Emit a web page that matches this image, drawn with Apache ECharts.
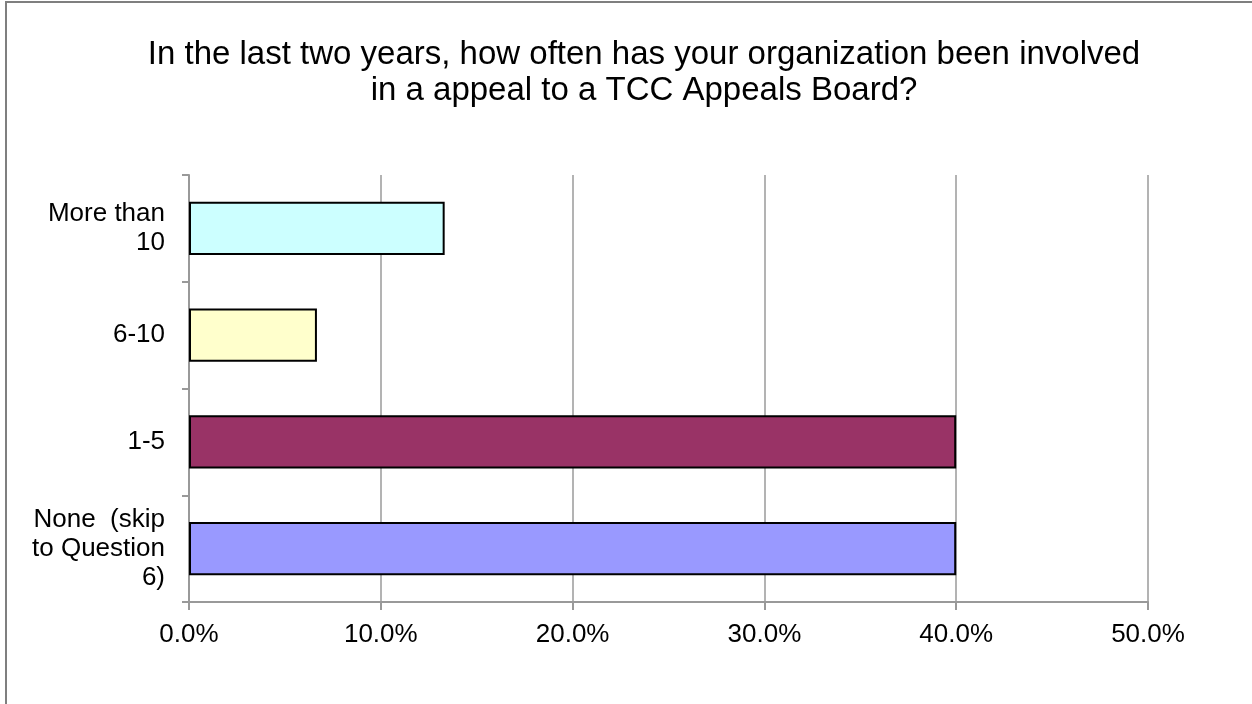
<!DOCTYPE html>
<html>
<head>
<meta charset="utf-8">
<script src="https://cdn.jsdelivr.net/npm/echarts@6/dist/echarts.min.js"></script>
<style>
html,body{margin:0;padding:0;background:#fff;}
#chart{width:1252px;height:704px;}
</style>
</head>
<body>
<div id="chart"></div>
<script>
const titleText = "In the last two years, how often has your organization been involved\nin a appeal to a TCC Appeals Board?";
const categories = ["None  (skip\nto Question\n6)", "1-5", "6-10", "More than\n10"];
const values = [40.0, 40.0, 6.67, 13.33];
const barColors = ["#9999FF", "#993366", "#FFFFCC", "#CCFFFF"];
const xTicks = [0, 10, 20, 30, 40, 50];

const FONT = "Liberation Sans, Arial, sans-serif";
const chart = echarts.init(document.getElementById('chart'));
chart.setOption({
  animation: false,
  backgroundColor: '#ffffff',
  title: {
    text: titleText,
    left: 644,
    top: 37,
    textAlign: 'center',
    padding: 0,
    textStyle: {fontFamily: FONT, fontSize: 33, fontWeight: 'normal', color: '#000', lineHeight: 36}
  },
  graphic: [{
    type: 'rect', silent: true,
    shape: {x: 6, y: 2, width: 1300, height: 760},
    style: {fill: 'none', stroke: '#7f7f7f', lineWidth: 2}
  }],
  grid: {left: 189, right: 104, top: 175, bottom: 102, containLabel: false},
  xAxis: {
    type: 'value', min: xTicks[0], max: xTicks[xTicks.length - 1], interval: 10,
    axisLine: {show: true, lineStyle: {color: '#999999', width: 2}},
    axisTick: {show: true, length: 8, lineStyle: {color: '#999999', width: 2}},
    splitLine: {show: true, lineStyle: {color: '#b3b3b3', width: 2}},
    axisLabel: {fontFamily: FONT, fontSize: 26, color: '#000', margin: 20,
      formatter: v => v.toFixed(1) + '%'}
  },
  yAxis: {
    type: 'category', data: categories,
    axisLine: {show: true, lineStyle: {color: '#999999', width: 2}},
    axisTick: {show: true, length: 7, lineStyle: {color: '#999999', width: 2}},
    axisLabel: {fontFamily: FONT, fontSize: 26, color: '#000', margin: 24, lineHeight: 29, align: 'right'}
  },
  series: [{
    type: 'bar',
    data: values.map((v, i) => ({value: v, itemStyle: {color: barColors[i]}})),
    barCategoryGap: '50%',
    itemStyle: {borderColor: '#000', borderWidth: 2},
    label: {show: false}
  }]
});
</script>
</body>
</html>
